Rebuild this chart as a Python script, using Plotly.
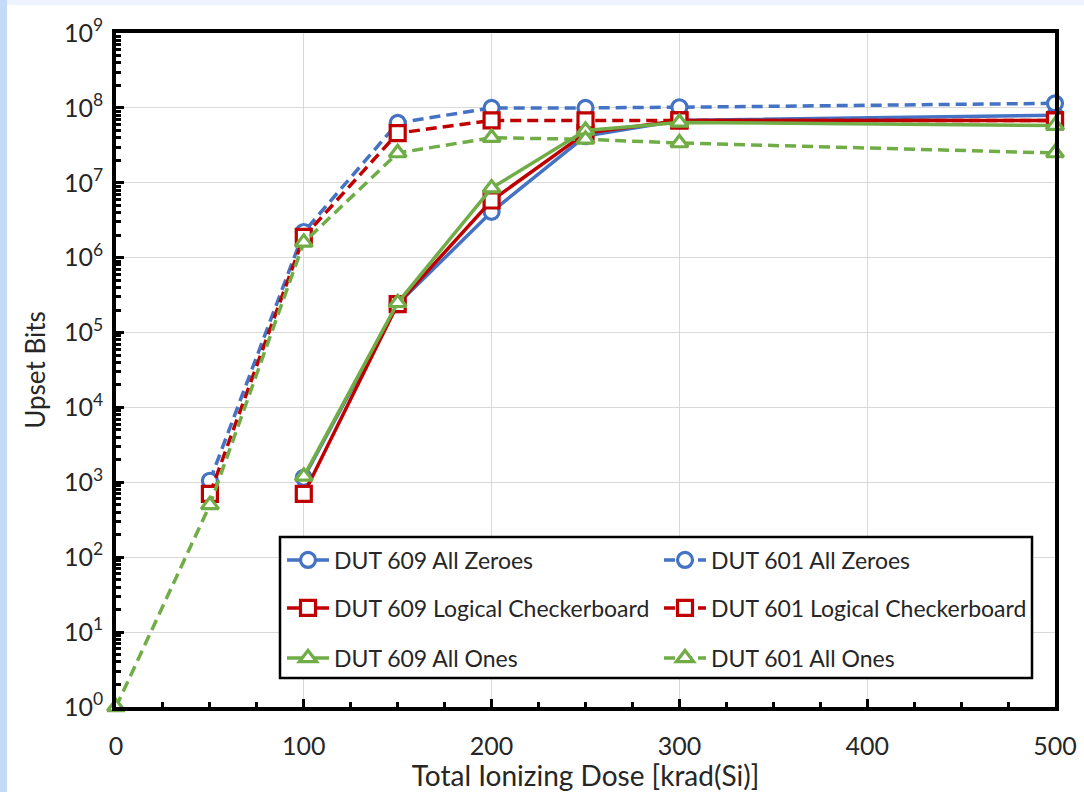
import plotly.graph_objects as go

# ---- data ----
dose_601 = [50, 100, 150, 200, 250, 300, 500]
dose_601_ones = [0, 50, 100, 150, 200, 250, 300, 500]
dose_609 = [100, 150, 200, 250, 300, 500]

dut601_zeroes = [1.05e3, 2.2e6, 6.3e7, 1.0e8, 1.0e8, 1.02e8, 1.15e8]
dut601_checker = [7.0e2, 1.9e6, 4.6e7, 6.8e7, 6.8e7, 6.8e7, 6.8e7]
dut601_ones = [1.0, 5.0e2, 1.6e6, 2.5e7, 4.0e7, 3.8e7, 3.4e7, 2.5e7]

dut609_zeroes = [1.15e3, 2.4e5, 4.1e6, 4.2e7, 6.8e7, 8.0e7]
dut609_checker = [7.0e2, 2.4e5, 5.8e6, 4.6e7, 6.8e7, 6.8e7]
dut609_ones = [1.2e3, 2.5e5, 8.5e6, 5.0e7, 6.4e7, 5.8e7]

x_ticks = [0, 100, 200, 300, 400, 500]
y_tickvals = [10 ** i for i in range(10)]
y_ticktext = ["10<sup>%d</sup>" % i for i in range(10)]

BLUE = "#4472C4"
RED = "#C00000"
GREEN = "#70AD47"
FONT = "Lato"
DASH = "11px,6px"

fig = go.Figure()


def add(x, y, name, color, symbol, dash, legend):
    fig.add_trace(go.Scatter(
        x=x, y=y, name=name, mode="lines+markers",
        line=dict(color=color, width=3.5, dash=dash),
        marker=dict(symbol=symbol, size=15, color="white",
                    line=dict(color=color, width=3.2)),
        cliponaxis=False, legend=legend,
    ))


add(dose_601, dut601_zeroes, "DUT 601 All Zeroes", BLUE, "circle", DASH, "legend")
add(dose_601, dut601_checker, "DUT 601 Logical Checkerboard", RED, "square", DASH, "legend2")
add(dose_601_ones, dut601_ones, "DUT 601 All Ones", GREEN, "triangle-up", DASH, "legend3")
add(dose_609, dut609_zeroes, "DUT 609 All Zeroes", BLUE, "circle", "solid", "legend")
add(dose_609, dut609_checker, "DUT 609 Logical Checkerboard", RED, "square", "solid", "legend2")
add(dose_609, dut609_ones, "DUT 609 All Ones", GREEN, "triangle-up", "solid", "legend3")

# reorder so 609 is first in each legend row
fig.data = (fig.data[3], fig.data[0], fig.data[4], fig.data[1], fig.data[5], fig.data[2])

W, H = 1084, 792
L, R, T, B = 116, 29, 33, 85
pw, ph = W - L - R, H - T - B


def px_x(p):
    return (p - L) / pw


def px_y(p):
    return (H - B - p) / ph


legend_common = dict(
    orientation="h", xanchor="left", yanchor="middle",
    x=px_x(282), bgcolor="rgba(0,0,0,0)", borderwidth=0,
    font=dict(family=FONT, size=23, color="#262626"),
    itemwidth=42,
    entrywidth=320, entrywidthmode="pixels", traceorder="normal",
)

fig.update_layout(
    width=W, height=H,
    margin=dict(l=L, r=R, t=T, b=B, autoexpand=False),
    paper_bgcolor="white", plot_bgcolor="white",
    font=dict(family=FONT, size=24, color="#262626"),
    legend=dict(**legend_common, y=px_y(560)),
    legend2=dict(**legend_common, y=px_y(608)),
    legend3=dict(**legend_common, y=px_y(658)),
    xaxis=dict(
        range=[0, 500], tickvals=x_ticks, showgrid=True, gridcolor="#d9d9d9", gridwidth=1,
        showline=True, linecolor="black", linewidth=3.5, mirror=True,
        ticks="inside", ticklen=8, tickwidth=2.5, tickcolor="black",
        minor=dict(dtick=25, ticks="inside", ticklen=5, tickwidth=2.5, tickcolor="black", showgrid=False),
        zeroline=False, ticklabelstandoff=14, automargin=False,
        title=dict(text="Total Ionizing Dose [krad(Si)]", font=dict(size=28), standoff=4),
        tickfont=dict(size=25),
    ),
    yaxis=dict(
        type="log", range=[0, 9], tickvals=y_tickvals, ticktext=y_ticktext,
        showgrid=True, gridcolor="#d9d9d9", gridwidth=1,
        showline=True, linecolor="black", linewidth=3.5, mirror=True,
        ticks="inside", ticklen=8, tickwidth=2.5, tickcolor="black",
        minor=dict(dtick="D1", ticks="inside", ticklen=5, tickwidth=2.5, tickcolor="black", showgrid=False),
        zeroline=False, ticklabelstandoff=4, automargin=False,
        title=dict(text="Upset Bits", font=dict(size=26), standoff=12),
        tickfont=dict(size=25),
    ),
    shapes=[
        dict(type="rect", xref="paper", yref="paper", x0=px_x(0), x1=px_x(7), y0=px_y(792), y1=px_y(0),
             fillcolor="#c4dbf8", line=dict(width=0), layer="below"),
        dict(type="rect", xref="paper", yref="paper", x0=px_x(7), x1=px_x(1084), y0=px_y(5), y1=px_y(0),
             fillcolor="#eef4fd", line=dict(width=0), layer="below"),
        dict(type="rect", xref="paper", yref="paper", x0=px_x(280), x1=px_x(1032), y0=px_y(678), y1=px_y(537),
             fillcolor="white", line=dict(color="black", width=2.5), layer="above"),
    ],
)

fig.write_html("out.html")
